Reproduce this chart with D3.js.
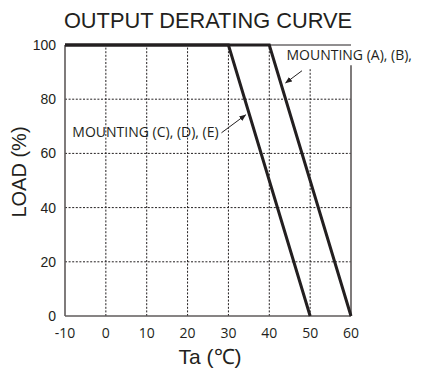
<!DOCTYPE html>
<html lang="en">
<head>
<meta charset="utf-8">
<script src="https://d3js.org/d3.v7.min.js"></script>
<style>
  body { margin: 0; background: #ffffff; }
  svg { display: block; }
</style>
</head>
<body>
<script>
// chart values
var tempTicks = [-10, 0, 10, 20, 30, 40, 50, 60];
var loadTicks = [0, 20, 40, 60, 80, 100];
var curveCDE = { temp: [-10, 30, 50], load: [100, 100, 0] };
var curveAB = { temp: [-10, 40, 60], load: [100, 100, 0] };
var labelAB = "MOUNTING (A), (B),";
var labelCDE = "MOUNTING (C), (D), (E)";

var width = 433, height = 369;
var ink = "#231f20";

var x = d3.scaleLinear().domain([-10, 60]).range([65, 351]);
var y = d3.scaleLinear().domain([0, 100]).range([316, 45]);

var svg = d3.select("body").append("svg")
    .attr("width", width)
    .attr("height", height);

// title
svg.append("text")
    .attr("x", 208).attr("y", 28)
    .attr("text-anchor", "middle")
    .style("font", "21.8px 'Liberation Sans', sans-serif")
    .style("fill", ink)
    .text("OUTPUT DERATING CURVE");

// dotted grid
svg.append("g").selectAll("line")
    .data(tempTicks.filter(function(d) { return d > -10 && d < 60; }))
    .enter().append("line")
    .attr("x1", function(d) { return x(d); })
    .attr("x2", function(d) { return x(d); })
    .attr("y1", y(0))
    .attr("y2", function(d) { return d == 50 ? y(91.5) : y(100); })
    .style("stroke", ink)
    .style("stroke-width", 1)
    .style("stroke-dasharray", "2,1.6");

svg.append("g").selectAll("line")
    .data(loadTicks.filter(function(d) { return d > 0 && d < 100; }))
    .enter().append("line")
    .attr("x1", x(-10)).attr("x2", x(60))
    .attr("y1", function(d) { return y(d); })
    .attr("y2", function(d) { return y(d); })
    .style("stroke", ink)
    .style("stroke-width", 1)
    .style("stroke-dasharray", "2,1.6");

// frame
var frame = svg.append("g").style("stroke", "#5f5b5b").style("stroke-width", 1.6);
frame.append("line").attr("x1", x(-10)).attr("x2", x(-10)).attr("y1", y(0)).attr("y2", y(100));
frame.append("line").attr("x1", x(-10)).attr("x2", x(60)).attr("y1", y(0)).attr("y2", y(0));
frame.append("line").attr("x1", x(60)).attr("x2", x(60)).attr("y1", y(0)).attr("y2", y(92.5));
svg.append("line")
    .attr("x1", x(-10)).attr("x2", x(60)).attr("y1", y(100)).attr("y2", y(100))
    .style("stroke", ink).style("stroke-width", 1);

// ticks
svg.append("g").selectAll("text")
    .data(tempTicks)
    .enter().append("text")
    .attr("x", function(d) { return x(d); })
    .attr("y", 338)
    .attr("text-anchor", "middle")
    .style("font", "14px 'Open Sans', sans-serif")
    .style("fill", ink)
    .text(function(d) { return d; });

svg.append("g").selectAll("text")
    .data(loadTicks)
    .enter().append("text")
    .attr("x", 56)
    .attr("y", function(d) { return y(d) + 5; })
    .attr("text-anchor", "end")
    .style("font", "14px 'Liberation Sans', sans-serif")
    .style("fill", ink)
    .text(function(d) { return d; });

// axis titles
svg.append("text")
    .attr("transform", "translate(26,172) rotate(-90)")
    .attr("text-anchor", "middle")
    .style("font", "20px 'Liberation Sans', sans-serif")
    .style("fill", ink)
    .text("LOAD (%)");

svg.append("text")
    .attr("x", 210).attr("y", 364)
    .attr("text-anchor", "middle")
    .style("font", "21px 'Liberation Sans', sans-serif")
    .style("fill", ink)
    .text("Ta (\u2103)");

// curves
var line = d3.line()
    .x(function(d) { return x(d[0]); })
    .y(function(d) { return y(d[1]); });

[curveAB, curveCDE].forEach(function(c) {
    svg.append("path")
        .datum(d3.zip(c.temp, c.load))
        .attr("d", line)
        .style("fill", "none")
        .style("stroke", ink)
        .style("stroke-width", 3)
        .style("stroke-linejoin", "miter");
});

// labels with arrows
svg.append("defs").append("marker")
    .attr("id", "arr")
    .attr("viewBox", "0 0 10 10")
    .attr("refX", 9).attr("refY", 5)
    .attr("markerWidth", 7).attr("markerHeight", 7)
    .attr("orient", "auto")
    .append("path")
    .attr("d", "M0,1 L10,5 L0,9 Z")
    .style("fill", ink);

svg.append("text")
    .attr("x", x(44.2)).attr("y", y(94.3))
    .style("font", "14px 'Open Sans', sans-serif")
    .style("fill", ink)
    .text(labelAB);

svg.append("text")
    .attr("x", x(27.6)).attr("y", y(66.2))
    .attr("text-anchor", "end")
    .style("font", "14px 'Open Sans', sans-serif")
    .style("fill", ink)
    .text(labelCDE);

svg.append("line")
    .attr("x1", x(48)).attr("y1", y(90.5))
    .attr("x2", x(44)).attr("y2", y(86))
    .style("stroke", ink).style("stroke-width", 1)
    .attr("marker-end", "url(#arr)");

svg.append("line")
    .attr("x1", x(28.3)).attr("y1", y(67.6))
    .attr("x2", x(34.2)).attr("y2", y(74.2))
    .style("stroke", ink).style("stroke-width", 1)
    .attr("marker-end", "url(#arr)");
</script>
</body>
</html>
